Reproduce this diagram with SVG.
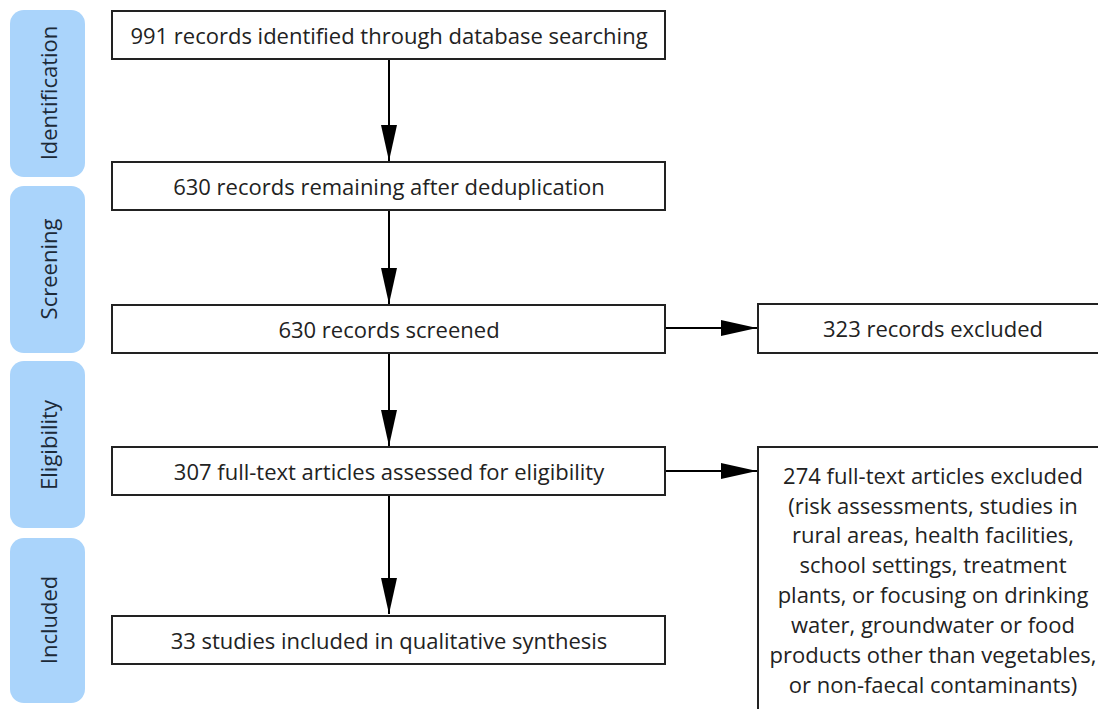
<svg xmlns="http://www.w3.org/2000/svg" width="1098" height="709" viewBox="0 0 1098 709">
  <defs>
    <marker id="arrow" viewBox="0 0 36 16" refX="36" refY="8" markerWidth="36" markerHeight="16" markerUnits="userSpaceOnUse" orient="auto">
      <path d="M0,0 L36,8 L0,16 Z" fill="#000"/>
    </marker>
  </defs>
  <style>
    .phase rect { fill: #aad4fb; }
    .phase text { font-family: "Open Sans", "Noto Sans", sans-serif; font-size: 22px; fill: #1c2a38; text-anchor: middle; }
    .box rect { fill: #fff; stroke: #222; stroke-width: 2; }
    .box text { font-family: "Open Sans", "Noto Sans", sans-serif; font-size: 22px; fill: #222; text-anchor: middle; }
    .conn line { stroke: #000; stroke-width: 2; marker-end: url(#arrow); }
  </style>
  <rect width="1098" height="709" fill="#fff"/>

  <!-- phase labels -->
  <g id="phase-identification" class="phase">
    <rect x="10" y="10" width="75" height="167" rx="14"/>
    <text transform="translate(57 93) rotate(-90)">Identification</text>
  </g>
  <g id="phase-screening" class="phase">
    <rect x="10" y="186" width="75" height="167" rx="14"/>
    <text transform="translate(57 269) rotate(-90)">Screening</text>
  </g>
  <g id="phase-eligibility" class="phase">
    <rect x="10" y="361" width="75" height="167" rx="14"/>
    <text transform="translate(57 445) rotate(-90)">Eligibility</text>
  </g>
  <g id="phase-included" class="phase">
    <rect x="10" y="538" width="75" height="165" rx="14"/>
    <text transform="translate(57 620) rotate(-90)">Included</text>
  </g>

  <!-- connectors -->
  <g id="connectors" class="conn">
    <line x1="389" y1="59" x2="389" y2="161"/>
    <line x1="389" y1="210" x2="389" y2="304"/>
    <line x1="389" y1="353" x2="389" y2="446"/>
    <line x1="389" y1="495" x2="389" y2="614"/>
    <line x1="665" y1="328" x2="757" y2="328"/>
    <line x1="665" y1="471" x2="757" y2="471"/>
  </g>

  <!-- flow boxes -->
  <g id="box-identified" class="box">
    <rect x="112" y="11" width="553" height="48"/>
    <text x="389" y="44">991 records identified through database searching</text>
  </g>
  <g id="box-deduplicated" class="box">
    <rect x="112" y="162" width="553" height="48"/>
    <text x="389" y="195">630 records remaining after deduplication</text>
  </g>
  <g id="box-screened" class="box">
    <rect x="112" y="305" width="553" height="48"/>
    <text x="389" y="338">630 records screened</text>
  </g>
  <g id="box-excluded-records" class="box">
    <rect x="758" y="304" width="350" height="49"/>
    <text x="933" y="337">323 records excluded</text>
  </g>
  <g id="box-fulltext" class="box">
    <rect x="112" y="447" width="553" height="48"/>
    <text x="389" y="480">307 full-text articles assessed for eligibility</text>
  </g>
  <g id="box-excluded-fulltext" class="box">
    <rect x="758" y="447" width="350" height="280"/>
    <text x="933" y="484">274 full-text articles excluded</text>
    <text x="933" y="514">(risk assessments, studies in</text>
    <text x="933" y="543">rural areas, health facilities,</text>
    <text x="933" y="573">school settings, treatment</text>
    <text x="933" y="603">plants, or focusing on drinking</text>
    <text x="933" y="633">water, groundwater or food</text>
    <text x="933" y="663">products other than vegetables,</text>
    <text x="933" y="693">or non-faecal contaminants)</text>
  </g>
  <g id="box-included" class="box">
    <rect x="112" y="616" width="553" height="48"/>
    <text x="389" y="649">33 studies included in qualitative synthesis</text>
  </g>
</svg>
